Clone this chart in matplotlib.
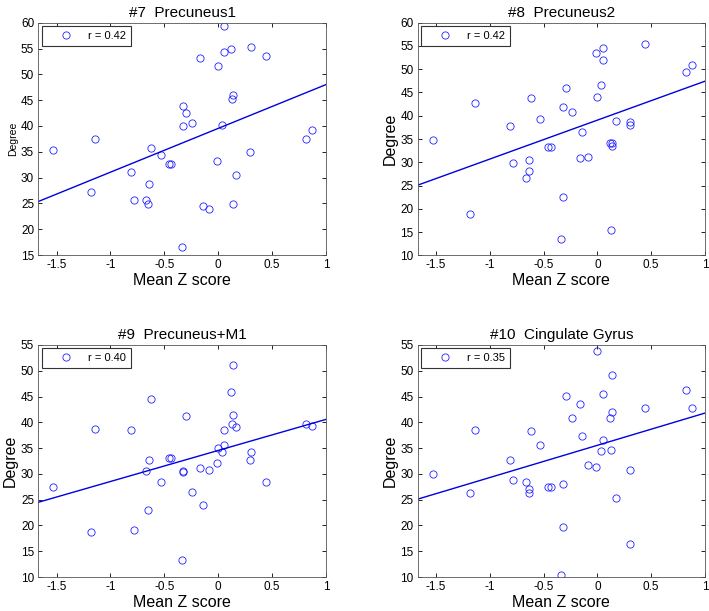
import numpy as np
import matplotlib
matplotlib.use('Agg')
from matplotlib import pyplot as plt

plt.rcParams['font.family'] = ['Liberation Sans', 'DejaVu Sans']
plt.rcParams['axes.unicode_minus'] = False

# mean Z score per subject (left panels / right panels read separately)
z_left = [-1.53, -1.18, -1.14, -0.81, -0.78, -0.67, -0.65, -0.64, -0.62, -0.534,
          -0.457, -0.435, -0.335, -0.326, -0.323, -0.298, -0.239, -0.165, -0.146, -0.087,
          -0.009, -0.003, 0.034, 0.053, 0.053, 0.118, 0.127, 0.134, 0.134, 0.168,
          0.298, 0.301, 0.441, 0.817, 0.873]
z_right = [-1.53, -1.18, -1.14, -0.81, -0.78, -0.66, -0.64, -0.64, -0.62, -0.53,
           -0.46, -0.435, -0.335, -0.323, -0.32, -0.295, -0.24, -0.16, -0.14, -0.087,
           -0.009, 0.0, 0.037, 0.056, 0.056, 0.12, 0.137, 0.137, 0.13, 0.17,
           0.3, 0.3, 0.444, 0.82, 0.876]

deg7 = [35.3, 27.2, 37.4, 31.0, 25.65, 25.65, 24.9, 28.8, 35.7, 34.3,
        32.6, 32.6, 16.55, 40.05, 43.86, 42.6, 40.6, 53.2, 24.4, 23.9,
        33.3, 51.7, 40.25, 54.3, 59.3, 55.0, 45.2, 45.9, 24.9, 30.5,
        34.9, 55.35, 53.5, 37.5, 39.3]
deg8 = [34.7, 18.9, 42.8, 37.7, 29.9, 26.7, 28.2, 30.4, 43.8, 39.3,
        33.3, 33.3, 13.6, 22.5, 41.8, 45.9, 40.8, 31.0, 36.6, 31.2,
        53.5, 44.1, 46.6, 54.6, 51.9, 34.2, 34.2, 33.6, 15.4, 38.9,
        38.6, 38.1, 55.5, 49.5, 51.0]
deg9 = [27.46, 18.8, 38.8, 38.45, 19.06, 30.55, 22.9, 32.6, 44.5, 28.4,
        33.0, 33.0, 13.24, 30.6, 30.4, 41.2, 26.4, 31.1, 24.0, 30.8,
        32.2, 35.0, 34.25, 38.45, 35.7, 45.95, 39.6, 41.5, 51.05, 39.0,
        32.6, 34.25, 28.4, 39.7, 39.2]
deg10 = [29.9, 26.2, 38.6, 32.6, 28.9, 28.4, 27.0, 26.3, 38.4, 35.7,
         27.4, 27.4, 10.3, 19.7, 28.0, 45.2, 40.8, 43.5, 37.3, 31.7,
         31.4, 53.8, 34.4, 45.5, 36.5, 40.8, 49.1, 42.1, 34.6, 25.3,
         30.7, 16.4, 42.8, 46.2, 42.7]

titles = ['#7  Precuneus1', '#8  Precuneus2', '#9  Precuneus+M1', '#10  Cingulate Gyrus']
r_labels = ['r = 0.42', 'r = 0.42', 'r = 0.40', 'r = 0.35']
ylims = [(15, 60), (10, 60), (10, 55), (10, 55)]
xlim = (-1.67, 1)

W, H = 709, 611
fig = plt.figure(figsize=(W / 100, H / 100), dpi=100)

boxes = [(38.3, 22.7, 326, 255), (417.7, 22.7, 705, 255.3),
         (38.3, 345, 326, 577), (417.7, 345, 705, 577)]
xs = [z_left, z_right, z_left, z_right]
ys = [deg7, deg8, deg9, deg10]

for i in range(4):
    l, t, r, b = boxes[i]
    ax = fig.add_axes([l / W, 1 - b / H, (r - l) / W, (b - t) / H])
    x = np.array(xs[i])
    y = np.array(ys[i])
    ax.plot(x, y, 'o', ms=5.2, mfc='none', mec='#2020ff', mew=0.6, label=r_labels[i])
    k, c = np.polyfit(x, y, 1)
    lx = np.array(xlim)
    ax.plot(lx, k * lx + c, color='#0000e0', lw=1.0)
    ax.set_xlim(xlim)
    ax.set_ylim(ylims[i])
    ax.set_xticks([-1.5, -1, -0.5, 0, 0.5, 1])
    ax.set_xticklabels(['-1.5', '-1', '-0.5', '0', '0.5', '1'])
    ax.set_yticks(np.arange(ylims[i][0], ylims[i][1] + 1, 5))
    ax.tick_params(direction='in', top=True, right=True, length=3, width=0.6,
                   labelsize=8.5, pad=3)
    for s in ax.spines.values():
        s.set_linewidth(0.6)
        s.set_color('#555555')
    ax.set_title(titles[i], fontsize=11, pad=4)
    ax.set_xlabel('Mean Z score', fontsize=11.5, labelpad=1)
    if i == 0:
        ax.set_ylabel('Degree', fontsize=7.5, labelpad=2)
    else:
        ax.set_ylabel('Degree', fontsize=11.5, labelpad=2)
    handles, labels = ax.get_legend_handles_labels()
    leg = ax.legend(handles[:1], labels[:1], loc='upper left', fontsize=8,
                    fancybox=False, edgecolor='#333333', framealpha=1,
                    borderaxespad=0.3, handletextpad=0.2, handlelength=3.5,
                    borderpad=0.45)
    leg.get_frame().set_linewidth(0.8)

plt.savefig('out.png', dpi=100)
